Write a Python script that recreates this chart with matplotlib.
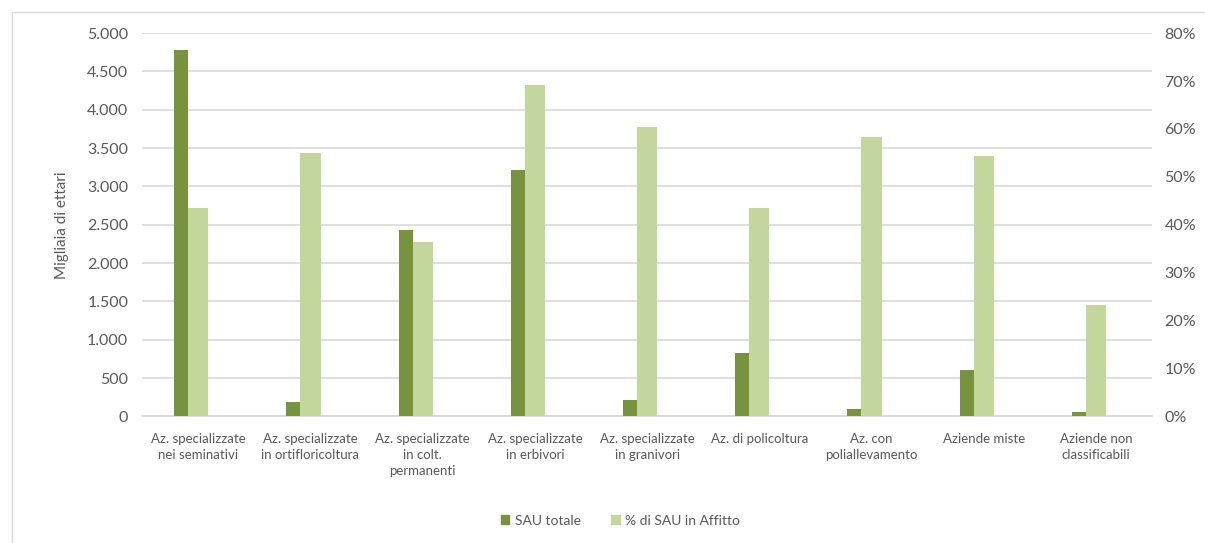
import numpy as np
import matplotlib.pyplot as plt
from matplotlib.ticker import FuncFormatter, MultipleLocator
from matplotlib.lines import Line2D

plt.rcParams['font.family'] = ['Lato', 'DejaVu Sans']

# data
categorie = ["Az. specializzate\nnei seminativi", "Az. specializzate\nin ortifloricoltura",
             "Az. specializzate\nin colt.\npermanenti", "Az. specializzate\nin erbivori",
             "Az. specializzate\nin granivori", "Az. di policoltura",
             "Az. con\npoliallevamento", "Aziende miste", "Aziende non\nclassificabili"]
sau_totale = [4782, 188, 2431, 3217, 218, 827, 96, 609, 57]
perc_affitto = [43.6, 55.0, 36.4, 69.1, 60.5, 43.5, 58.3, 54.3, 23.2]

dark = '#77933C'
light = '#C3D69B'
grey = '#595959'

fig = plt.figure(figsize=(12.05, 5.43), dpi=100)
ax = fig.add_axes([0.118, 0.233, 0.838, 0.706])
ax2 = ax.twinx()

x = np.arange(len(categorie))
w_dark = 0.125
w_light = 0.18
ax.bar(x - w_light/2 - w_dark/2, sau_totale, width=w_dark, color=dark, zorder=3)
ax2.bar(x, perc_affitto, width=w_light, color=light, zorder=3)

ax.set_xlim(-0.5, len(categorie) - 0.5)
ax.set_ylim(0, 5000)
ax2.set_ylim(0, 80)
ax.yaxis.set_major_locator(MultipleLocator(500))
ax2.yaxis.set_major_locator(MultipleLocator(10))
ax.yaxis.set_major_formatter(FuncFormatter(lambda v, p: f"{int(v):,}".replace(",", ".")))
ax2.yaxis.set_major_formatter(FuncFormatter(lambda v, p: f"{int(v)}%"))

ax.grid(axis='y', color='#D9D9D9', linewidth=1.2, zorder=0)
ax.set_axisbelow(True)
for a in (ax, ax2):
    for s in a.spines.values():
        s.set_visible(False)
    a.tick_params(length=0, colors=grey, labelsize=11.5)
ax.spines['bottom'].set_visible(True)
ax.spines['bottom'].set_color('#D9D9D9')
ax.spines['bottom'].set_linewidth(1.2)
ax2.tick_params(axis='y', pad=9)
ax.tick_params(axis='y', pad=10)

ax.set_xticks(x)
ax.set_xticklabels(categorie, fontsize=9.5, color=grey, linespacing=1.4)
ax.tick_params(axis='x', pad=12)
ax.set_ylabel('Migliaia di ettari', fontsize=11, color=grey, labelpad=13)

handles = [plt.Rectangle((0, 0), 1, 1, color=dark), plt.Rectangle((0, 0), 1, 1, color=light)]
fig.legend(handles, ['SAU totale', '% di SAU in Affitto'], loc='center', bbox_to_anchor=(0.515, 0.041),
           ncol=2, frameon=False, fontsize=10, labelcolor=grey, handlelength=0.6, handleheight=0.6,
           columnspacing=2.2, handletextpad=0.4)

# chart frame (left and top edges visible)
fig.add_artist(Line2D([12/1205, 12/1205], [0, 1 - 12/543], color='#D9D9D9', lw=1, transform=fig.transFigure))
fig.add_artist(Line2D([12/1205, 1], [1 - 12/543, 1 - 12/543], color='#D9D9D9', lw=1, transform=fig.transFigure))

fig.savefig('out.png', dpi=100)
